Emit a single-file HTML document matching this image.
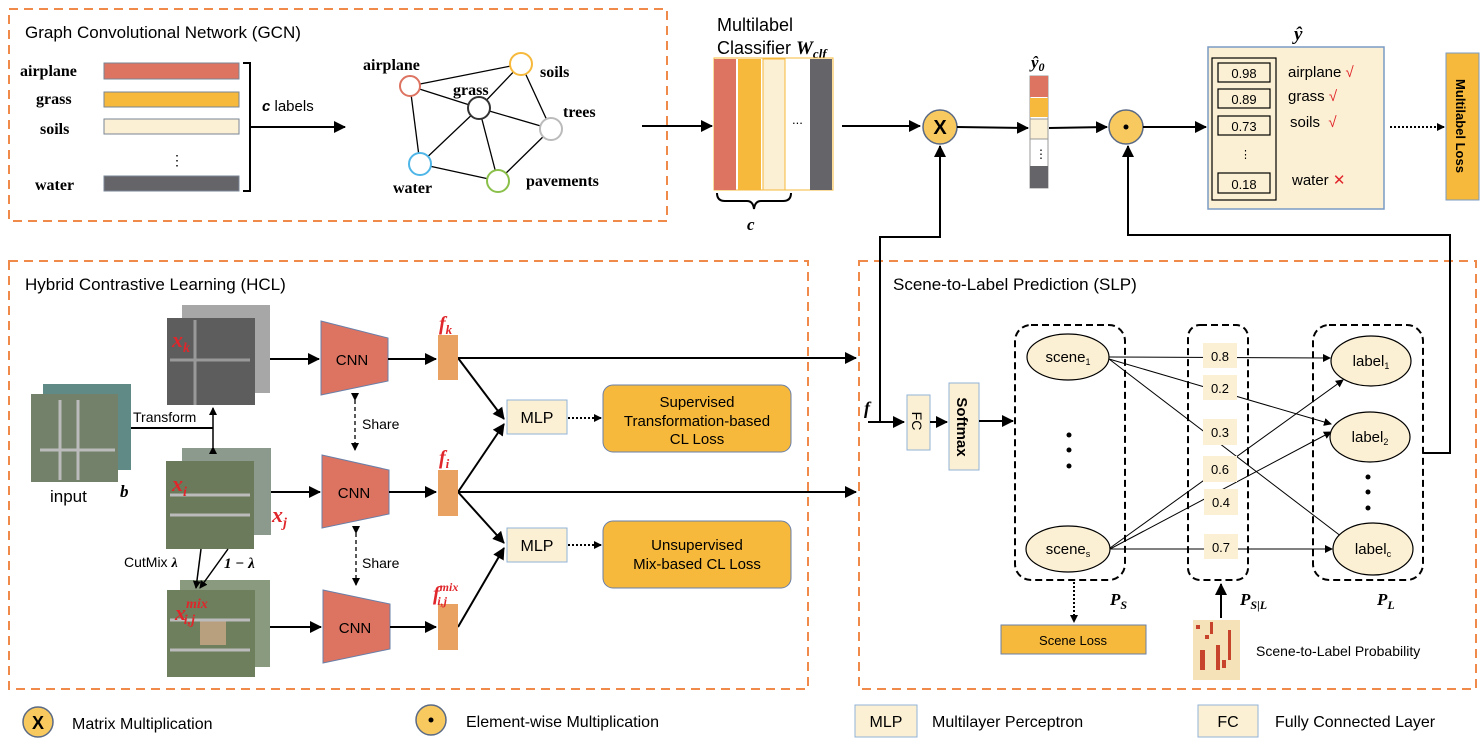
<!DOCTYPE html>
<html><head><meta charset="utf-8"><style>
body{margin:0;background:#fff}
svg{display:block}
text{font-family:"Liberation Sans",sans-serif;fill:#000}
.sr{font-family:"Liberation Serif",serif;font-weight:bold}
.red{fill:#e0262b;font-family:"Liberation Serif",serif;font-style:italic;font-weight:bold}
.it{font-family:"Liberation Serif",serif;font-style:italic;font-weight:bold}
</style></head><body>
<svg width="1481" height="748" viewBox="0 0 1481 748" xmlns="http://www.w3.org/2000/svg">
<defs>
<marker id="a" markerWidth="8" markerHeight="8" refX="7" refY="4" orient="auto" markerUnits="userSpaceOnUse"><path d="M0,0 L8,4 L0,8z" fill="#000"/></marker>
<marker id="b" markerWidth="12" markerHeight="12" refX="11" refY="6" orient="auto" markerUnits="userSpaceOnUse"><path d="M0,0 L12,6 L0,12z" fill="#000"/></marker>
</defs>
<g fill="none" stroke="#f08a4b" stroke-width="2" stroke-dasharray="9,6">
<rect x="9" y="9" width="658" height="212"/>
<rect x="9" y="261" width="799" height="428"/>
<rect x="859" y="261" width="617" height="428"/>
</g>
<text x="25" y="38" font-size="17">Graph Convolutional Network (GCN)</text>
<text x="25" y="290" font-size="17">Hybrid Contrastive Learning (HCL)</text>
<text x="893" y="290" font-size="17">Scene-to-Label Prediction (SLP)</text>
<g font-size="16">
<text x="20" y="76" class="sr">airplane</text><text x="36" y="104" class="sr">grass</text><text x="40" y="134" class="sr">soils</text><text x="35" y="190" class="sr">water</text>
</g>
<g stroke="#7a8594" stroke-width="1">
<rect x="104" y="63" width="135" height="16" fill="#dd7361"/>
<rect x="104" y="92" width="135" height="15" fill="#f6b93b"/>
<rect x="104" y="119" width="135" height="15" fill="#fcf0d4"/>
<rect x="104" y="176" width="135" height="15" fill="#646469"/>
</g>
<text x="170" y="165" font-size="14">⋮</text>
<path d="M243,63 H250 V191 H243 M250,127 H345" fill="none" stroke="#000" stroke-width="2" marker-end="url(#b)"/>
<text x="262" y="111" font-size="15"><tspan font-style="italic" font-weight="bold">c</tspan> labels</text>
<g stroke="#000" stroke-width="1.3">
<line x1="410" y1="86" x2="521" y2="64"/><line x1="410" y1="86" x2="479" y2="108"/><line x1="410" y1="86" x2="420" y2="164"/>
<line x1="479" y1="108" x2="521" y2="64"/><line x1="479" y1="108" x2="551" y2="129"/><line x1="479" y1="108" x2="420" y2="164"/><line x1="479" y1="108" x2="498" y2="181"/>
<line x1="521" y1="64" x2="551" y2="129"/><line x1="551" y1="129" x2="498" y2="181"/><line x1="420" y1="164" x2="498" y2="181"/>
</g>
<g fill="#fff" stroke-width="2">
<circle cx="410" cy="86" r="10" stroke="#dd7361"/><circle cx="479" cy="108" r="11" stroke="#333"/><circle cx="521" cy="64" r="11" stroke="#f6b93b"/>
<circle cx="551" cy="129" r="11" stroke="#bbb"/><circle cx="420" cy="164" r="11" stroke="#4fb6e8"/><circle cx="498" cy="181" r="11" stroke="#8ac04a"/>
</g>
<g font-size="16">
<text x="363" y="70" class="sr">airplane</text><text x="453" y="95" class="sr">grass</text><text x="540" y="77" class="sr">soils</text>
<text x="563" y="117" class="sr">trees</text><text x="393" y="193" class="sr">water</text><text x="526" y="186" class="sr">pavements</text>
</g>
<line x1="642" y1="126" x2="712" y2="126" stroke="#000" stroke-width="2" marker-end="url(#b)"/>
<text x="717" y="31" font-size="18">Multilabel</text>
<text x="717" y="54" font-size="18">Classifier <tspan class="it" font-size="19">W</tspan><tspan class="it" font-size="13" dy="4">clf</tspan></text>
<rect x="714" y="58" width="119" height="132" fill="#fff" stroke="#f6b93b"/>
<rect x="714" y="59" width="22" height="131" fill="#dd7361"/>
<rect x="738" y="59" width="23" height="131" fill="#f6b93b"/>
<rect x="763" y="59" width="22" height="131" fill="#fcf0d4" stroke="#f6b93b"/>
<rect x="810" y="59" width="22" height="131" fill="#646469"/>
<text x="792" y="124" font-size="13">...</text>
<path d="M717,193 q0,8 8,8 h22 q6,0 7,8 q1,-8 7,-8 h22 q8,0 8,-8" fill="none" stroke="#000" stroke-width="2"/>
<text x="747" y="230" class="it" font-size="17" font-weight="normal">c</text>
<line x1="842" y1="126" x2="920" y2="126" stroke="#000" stroke-width="2" marker-end="url(#b)"/>
<circle cx="940" cy="127" r="17" fill="#f8c95f" stroke="#5a6a85" stroke-width="1.5"/>
<text x="940" y="134" font-size="20" font-weight="bold" text-anchor="middle">X</text>
<line x1="957" y1="127" x2="1028" y2="128" stroke="#000" stroke-width="2" marker-end="url(#b)"/>
<text x="1031" y="68" class="it" font-size="17">ŷ<tspan font-size="12" dy="3">0</tspan></text>
<rect x="1030" y="76" width="18" height="112" fill="#fff" stroke="#999"/>
<rect x="1030" y="76" width="18" height="21" fill="#dd7361"/>
<rect x="1030" y="98" width="18" height="19" fill="#f6b93b"/>
<rect x="1030" y="119" width="18" height="20" fill="#fcf0d4" stroke="#999"/>
<rect x="1030" y="166" width="18" height="22" fill="#646469"/>
<text x="1035" y="158" font-size="12">⋮</text>
<line x1="1049" y1="128" x2="1107" y2="127" stroke="#000" stroke-width="2" marker-end="url(#b)"/>
<circle cx="1126" cy="127" r="17" fill="#f8c95f" stroke="#5a6a85" stroke-width="1.5"/>
<circle cx="1126" cy="127" r="2.5" fill="#000"/>
<line x1="1143" y1="127" x2="1206" y2="127" stroke="#000" stroke-width="2" marker-end="url(#b)"/>
<text x="1294" y="40" class="it" font-size="19">ŷ</text>
<rect x="1208" y="47" width="176" height="162" fill="#fcf0d4" stroke="#7a9bc4" stroke-width="1.5"/>
<rect x="1212" y="58" width="64" height="142" fill="none" stroke="#000" stroke-width="1.2"/>
<g fill="none" stroke="#000" stroke-width="1.2">
<rect x="1218" y="63" width="52" height="19"/><rect x="1218" y="89" width="52" height="19"/><rect x="1218" y="116" width="52" height="19"/><rect x="1218" y="173" width="52" height="20"/>
</g>
<g font-size="13" text-anchor="middle"><text x="1244" y="78">0.98</text><text x="1244" y="104">0.89</text><text x="1244" y="131">0.73</text><text x="1244" y="189">0.18</text></g>
<text x="1240" y="158" font-size="11">⋮</text>
<g font-size="15"><text x="1288" y="77">airplane <tspan fill="#e0262b">√</tspan></text><text x="1288" y="101">grass <tspan fill="#e0262b">√</tspan></text><text x="1290" y="127">soils &#160;<tspan fill="#e0262b">√</tspan></text><text x="1292" y="185">water <tspan fill="#e0262b">✕</tspan></text></g>
<line x1="1390" y1="127" x2="1444" y2="127" stroke="#000" stroke-width="2" stroke-dasharray="2,2" marker-end="url(#a)"/>
<rect x="1446" y="53" width="33" height="147" fill="#f6b93b" stroke="#7a9bc4"/>
<text transform="translate(1456,126) rotate(90)" font-size="13" font-weight="bold" text-anchor="middle">Multilabel Loss</text>
<path d="M880,422 V237 H940 V146" fill="none" stroke="#000" stroke-width="2" marker-end="url(#b)"/>
<path d="M1423,453 H1450 V235 H1128 V146" fill="none" stroke="#000" stroke-width="2" marker-end="url(#b)"/>
<g>
<rect x="43" y="384" width="88" height="86" fill="#5f8a86"/>
<rect x="31" y="394" width="87" height="88" fill="#73806a"/>
<rect x="182" y="305" width="88" height="88" fill="#a7a7a7"/>
<rect x="167" y="318" width="88" height="87" fill="#5d5d5d"/>
<rect x="182" y="448" width="89" height="87" fill="#8c9a8d"/>
<rect x="166" y="461" width="88" height="88" fill="#6b7a5a"/>
<rect x="180" y="580" width="90" height="87" fill="#8a9a7e"/>
<rect x="167" y="590" width="88" height="87" fill="#6e7f5e"/>
<rect x="200" y="620" width="26" height="25" fill="#b89f7e"/>
<path d="M60,400 V480 M78,400 V480 M40,450 H115" stroke="#bbb" stroke-width="3"/>
<path d="M195,320 V405 M170,360 H250" stroke="#999" stroke-width="3"/>
<path d="M170,495 H250 M170,515 H250" stroke="#bbb" stroke-width="3"/>
<path d="M170,620 H250 M170,650 H250" stroke="#bbb" stroke-width="3"/>
</g>
<text x="172" y="347" class="red" font-size="22">x<tspan font-size="14" dy="5">k</tspan></text>
<text x="172" y="491" class="red" font-size="22">x<tspan font-size="14" dy="5">i</tspan></text>
<text x="272" y="522" class="red" font-size="22">x<tspan font-size="14" dy="5">j</tspan></text>
<text x="175" y="620" class="red" font-size="22">x<tspan font-size="14" dy="-12">mix</tspan><tspan font-size="14" dx="-24" dy="16">i,j</tspan></text>
<text x="50" y="502" font-size="17">input</text>
<text x="120" y="497" class="it" font-size="17" font-weight="normal">b</text>
<path d="M131,428 H213" fill="none" stroke="#000" stroke-width="2"/>
<line x1="213" y1="447" x2="213" y2="408" stroke="#000" stroke-width="1.5" marker-start="url(#a)" marker-end="url(#a)"/>
<text x="133" y="422" font-size="14">Transform</text>
<line x1="201" y1="549" x2="196" y2="588" stroke="#000" stroke-width="1.5" marker-end="url(#a)"/>
<line x1="228" y1="549" x2="200" y2="588" stroke="#000" stroke-width="1.5" marker-end="url(#a)"/>
<text x="124" y="567" font-size="14">CutMix <tspan class="it" font-weight="normal">λ</tspan></text>
<text x="224" y="568" class="it" font-size="15">1 − λ</text>
<g fill="#dd7361" stroke="#6a7fa8" stroke-width="1">
<path d="M321,321 L388,338 V381 L321,395z"/>
<path d="M322,455 L389,470 V514 L322,528z"/>
<path d="M323,590 L390,604 V649 L323,663z"/>
</g>
<g font-size="15" text-anchor="middle"><text x="352" y="365">CNN</text><text x="354" y="498">CNN</text><text x="355" y="633">CNN</text></g>
<g stroke="#000" stroke-width="2" marker-end="url(#b)">
<line x1="270" y1="359" x2="319" y2="359"/><line x1="271" y1="492" x2="320" y2="492"/><line x1="270" y1="627" x2="321" y2="627"/>
<line x1="388" y1="359" x2="436" y2="359"/><line x1="389" y1="492" x2="436" y2="492"/><line x1="390" y1="627" x2="436" y2="627"/>
<line x1="458" y1="358" x2="856" y2="358"/><line x1="458" y1="492" x2="856" y2="492"/>
<line x1="458" y1="358" x2="504" y2="419"/><line x1="458" y1="492" x2="504" y2="424"/>
<line x1="458" y1="492" x2="504" y2="543"/><line x1="458" y1="627" x2="504" y2="548"/>
</g>
<g stroke="#000" stroke-width="1.3" stroke-dasharray="4,3">
<line x1="355" y1="400" x2="355" y2="450" marker-start="url(#a)" marker-end="url(#a)"/>
<line x1="356" y1="533" x2="356" y2="585" marker-start="url(#a)" marker-end="url(#a)"/>
</g>
<text x="362" y="429" font-size="14">Share</text><text x="362" y="568" font-size="14">Share</text>
<g fill="#e9a262"><rect x="438" y="335" width="20" height="45"/><rect x="438" y="470" width="20" height="46"/><rect x="438" y="604" width="20" height="46"/></g>
<text x="439" y="330" class="red" font-size="20">f<tspan font-size="13" dy="4">k</tspan></text>
<text x="439" y="464" class="red" font-size="20">f<tspan font-size="13" dy="4">i</tspan></text>
<text x="433" y="600" class="red" font-size="20">f<tspan font-size="12" dy="-9">mix</tspan><tspan font-size="12" dx="-21" dy="14">i,j</tspan></text>
<g fill="#fcf0d4" stroke="#8fb3d6"><rect x="507" y="400" width="60" height="34"/><rect x="507" y="528" width="60" height="34"/></g>
<g font-size="16" text-anchor="middle"><text x="537" y="423">MLP</text><text x="537" y="551">MLP</text></g>
<g stroke="#000" stroke-width="2" stroke-dasharray="2,2" marker-end="url(#a)"><line x1="568" y1="418" x2="601" y2="418"/><line x1="568" y1="545" x2="601" y2="545"/></g>
<g fill="#f6b93b" stroke="#6a7fa8"><rect x="603" y="385" width="188" height="67" rx="10"/><rect x="603" y="521" width="188" height="67" rx="10"/></g>
<g font-size="15" text-anchor="middle"><text x="697" y="407">Supervised</text><text x="697" y="426">Transformation-based</text><text x="697" y="444">CL Loss</text>
<text x="697" y="550">Unsupervised</text><text x="697" y="569">Mix-based CL Loss</text></g>
<text x="864" y="414" class="it" font-size="18">f</text>
<line x1="868" y1="422" x2="904" y2="422" stroke="#000" stroke-width="2" marker-end="url(#b)"/>
<rect x="907" y="395" width="23" height="55" fill="#fcf0d4" stroke="#8fb3d6"/>
<text transform="translate(912,421) rotate(90)" font-size="14" text-anchor="middle">FC</text>
<line x1="930" y1="422" x2="947" y2="422" stroke="#000" stroke-width="2" marker-end="url(#b)"/>
<rect x="949" y="383" width="30" height="87" fill="#fcf0d4" stroke="#8fb3d6"/>
<text transform="translate(957,427) rotate(90)" font-size="15" font-weight="bold" text-anchor="middle">Softmax</text>
<line x1="979" y1="421" x2="1013" y2="421" stroke="#000" stroke-width="2" marker-end="url(#b)"/>
<g fill="none" stroke="#000" stroke-width="2" stroke-dasharray="7,4">
<rect x="1015" y="325" width="110" height="255" rx="16"/><rect x="1188" y="325" width="60" height="255" rx="12"/><rect x="1313" y="325" width="110" height="255" rx="16"/>
</g>
<g stroke="#000" stroke-width="1" marker-end="url(#a)">
<line x1="1109" y1="357" x2="1330" y2="358"/><line x1="1109" y1="359" x2="1331" y2="424"/><line x1="1109" y1="359" x2="1346" y2="540"/>
<line x1="1110" y1="548" x2="1343" y2="380"/><line x1="1110" y1="549" x2="1331" y2="432"/><line x1="1110" y1="549" x2="1332" y2="549"/>
</g>
<g fill="#fcf0d4"><rect x="1203" y="343" width="34" height="25"/><rect x="1203" y="375" width="34" height="25"/><rect x="1203" y="419" width="34" height="26"/><rect x="1203" y="456" width="34" height="26"/><rect x="1204" y="489" width="34" height="26"/><rect x="1204" y="534" width="34" height="25"/></g>
<g font-size="13" fill="#333" text-anchor="middle"><text x="1220" y="361">0.8</text><text x="1220" y="393">0.2</text><text x="1220" y="437">0.3</text><text x="1220" y="474">0.6</text><text x="1221" y="507">0.4</text><text x="1221" y="552">0.7</text></g>
<g fill="#fcf0d4" stroke="#000" stroke-width="1.2">
<ellipse cx="1068" cy="357" rx="41" ry="23"/><ellipse cx="1068" cy="549" rx="42" ry="23"/>
<ellipse cx="1371" cy="361" rx="40" ry="25"/><ellipse cx="1370" cy="437" rx="40" ry="25"/><ellipse cx="1373" cy="549" rx="40" ry="26"/>
</g>
<g font-size="15" text-anchor="middle">
<text x="1068" y="362">scene<tspan font-size="9" dy="3">1</tspan></text><text x="1068" y="554">scene<tspan font-size="9" dy="3">s</tspan></text>
<text x="1371" y="366">label<tspan font-size="9" dy="3">1</tspan></text><text x="1370" y="442">label<tspan font-size="9" dy="3">2</tspan></text><text x="1373" y="554">label<tspan font-size="9" dy="3">c</tspan></text>
</g>
<g fill="#000"><circle cx="1069" cy="435" r="2.5"/><circle cx="1069" cy="450" r="2.5"/><circle cx="1069" cy="466" r="2.5"/><circle cx="1368" cy="477" r="2.5"/><circle cx="1368" cy="492" r="2.5"/><circle cx="1368" cy="508" r="2.5"/></g>
<text x="1110" y="605" class="it" font-size="17">P<tspan font-size="12" dy="4">S</tspan></text>
<text x="1240" y="605" class="it" font-size="17">P<tspan font-size="12" dy="4">S|L</tspan></text>
<text x="1377" y="605" class="it" font-size="17">P<tspan font-size="12" dy="4">L</tspan></text>
<line x1="1074" y1="582" x2="1074" y2="622" stroke="#000" stroke-width="2" stroke-dasharray="2,2" marker-end="url(#a)"/>
<rect x="1001" y="625" width="145" height="29" fill="#f6b93b" stroke="#6a7fa8"/>
<text x="1073" y="645" font-size="13" text-anchor="middle">Scene Loss</text>
<rect x="1193" y="620" width="47" height="60" fill="#f6e2b8"/>
<g fill="#c8432c"><rect x="1196" y="625" width="4" height="4"/><rect x="1210" y="622" width="3" height="12"/><rect x="1200" y="650" width="5" height="20"/><rect x="1216" y="645" width="4" height="25"/><rect x="1228" y="630" width="3" height="30"/><rect x="1205" y="635" width="4" height="4"/><rect x="1222" y="660" width="4" height="8"/></g>
<line x1="1221" y1="618" x2="1221" y2="584" stroke="#000" stroke-width="2" marker-end="url(#b)"/>
<text x="1256" y="656" font-size="14">Scene-to-Label Probability</text>
<circle cx="38" cy="722" r="15" fill="#f8c95f" stroke="#5a6a85" stroke-width="1.5"/>
<text x="38" y="729" font-size="18" font-weight="bold" text-anchor="middle">X</text>
<text x="72" y="729" font-size="16">Matrix Multiplication</text>
<circle cx="431" cy="720" r="15" fill="#f8c95f" stroke="#5a6a85" stroke-width="1.5"/>
<circle cx="431" cy="720" r="2.5" fill="#000"/>
<text x="466" y="727" font-size="16">Element-wise Multiplication</text>
<rect x="855" y="705" width="62" height="32" fill="#fcf0d4" stroke="#8fb3d6"/>
<text x="886" y="727" font-size="16" text-anchor="middle">MLP</text>
<text x="932" y="727" font-size="16">Multilayer Perceptron</text>
<rect x="1198" y="705" width="60" height="32" fill="#fcf0d4" stroke="#8fb3d6"/>
<text x="1228" y="727" font-size="16" text-anchor="middle">FC</text>
<text x="1275" y="727" font-size="16">Fully Connected Layer</text>
</svg>
</body></html>
